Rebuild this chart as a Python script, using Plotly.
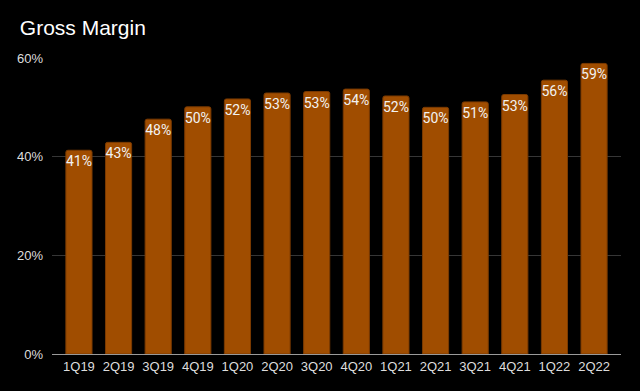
import plotly.graph_objects as go

quarters = ["1Q19", "2Q19", "3Q19", "4Q19", "1Q20", "2Q20", "3Q20", "4Q20",
            "1Q21", "2Q21", "3Q21", "4Q21", "1Q22", "2Q22"]
gross_margin = [41.3, 42.9, 47.6, 50.1, 51.7, 52.9, 53.2, 53.7,
                52.3, 50.0, 51.1, 52.6, 55.5, 58.9]
y_ticks = [0, 20, 40, 60]
y_tick_labels = ["0%", "20%", "40%", "60%"]

fig = go.Figure(go.Bar(
    x=quarters,
    y=gross_margin,
    marker=dict(color="#A04D00", line=dict(color="#7A3A00", width=1), cornerradius=2),
    width=0.66,
    texttemplate="%{y:.0f}%",
    textposition="inside",
    insidetextanchor="end",
    textangle=0,
    textfont=dict(color="#F2F2F2", size=14, family="Roboto"),
    cliponaxis=False,
))

fig.update_layout(
    width=640, height=391,
    paper_bgcolor="#000000", plot_bgcolor="#000000",
    margin=dict(l=52, r=19, t=58, b=37),
    title=dict(text="Gross Margin", x=0.031, xanchor="left", y=0.93, yanchor="middle",
               font=dict(color="#FFFFFF", size=21, family="Liberation Sans, Arial")),
    showlegend=False,
    uniformtext=dict(minsize=14, mode="show"),
)
fig.update_xaxes(
    range=[-0.68, 13.68],
    showgrid=False, showline=True, linecolor="#9A9A9A", linewidth=1,
    tickfont=dict(color="#DDDDDD", size=13, family="Liberation Sans, Arial"),
    ticks="", zeroline=False,
)
fig.update_yaxes(
    range=[0, 60], tickvals=y_ticks, ticktext=y_tick_labels,
    showgrid=True, gridcolor="#363636", gridwidth=1,
    tickfont=dict(color="#DDDDDD", size=13, family="Liberation Sans, Arial"),
    ticks="", zeroline=False, ticklabelstandoff=8,
)

fig.write_html("out.html",
               config={"displayModeBar": False},
               post_script="document.body.style.margin='0';document.body.style.background='#000';")
